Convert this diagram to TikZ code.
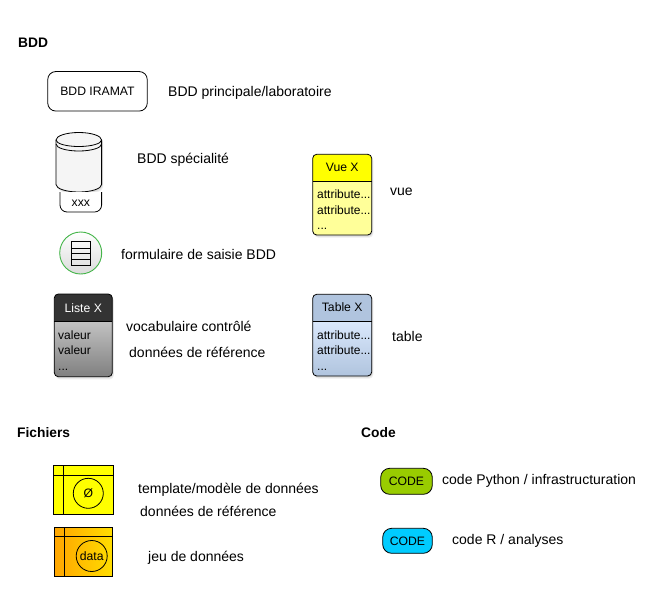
\documentclass[tikz,border=0pt]{standalone}
\usepackage{fontspec}
\setmainfont{Liberation Sans}
\usetikzlibrary{shadows,calc}
\definecolor{vuehead}{HTML}{FFFF00}
\definecolor{vuebody}{HTML}{FFFF99}
\definecolor{tablehead}{HTML}{B0C4DE}
\definecolor{tablelight}{HTML}{DAE8FC}
\definecolor{listehead}{HTML}{333333}
\definecolor{greenfill}{HTML}{99CC00}
\definecolor{bluefill}{HTML}{00CCFF}
\definecolor{greenring}{HTML}{44B549}
\definecolor{orangeleft}{HTML}{FFA500}
\definecolor{orangeright}{HTML}{FFDD00}
\tikzset{
  lbl/.style={anchor=west,inner sep=0pt,font=\fontsize{14}{16}\selectfont},
  head/.style={anchor=west,inner sep=0pt,font=\fontsize{13.8}{16}\selectfont\bfseries},
  small/.style={inner sep=0pt,font=\fontsize{12.2}{14}\selectfont},
  softshadow/.style={fill=white,drop shadow={opacity=.14,shadow xshift=1pt,shadow yshift=-1.5pt},drop shadow={opacity=.14,shadow xshift=1.6pt,shadow yshift=-2.6pt}},
  codebox/.style={draw=black,line width=.8pt,rounded corners=9pt,inner sep=0pt,font=\fontsize{12.2}{14}\selectfont},
  fileline/.style={draw=black,line width=1pt},
  filecircle/.style={circle,draw=black,line width=.8pt,inner sep=0pt,font=\fontsize{12.2}{14}\selectfont},
  attrs/.style={inner sep=0pt,anchor=north west,align=left,font=\fontsize{12}{15.4}\selectfont},
}
% entity box: x0,y0,x1,y1,ysplit,head fill,body options
\newcommand{\entitybox}[7]{%
  \path[softshadow,rounded corners=4pt] (#1,#2) rectangle (#3,#4);
  \path[#7] [sharp corners] (#1,#5) -- (#3,#5) [rounded corners=4pt] -- (#3,#4) -- (#1,#4) [sharp corners] -- cycle;
  \fill[#6,rounded corners=4pt] (#1,#5) [sharp corners] -- (#1,#5) [rounded corners=4pt] -- (#1,#2) -- (#3,#2) [sharp corners] -- (#3,#5) -- cycle;
  \draw[black,line width=.8pt,rounded corners=4pt] (#1,#2) rectangle (#3,#4);
  \draw[black,line width=.8pt] (#1,#5) -- (#3,#5);
}
\begin{document}
\begin{tikzpicture}[x=1pt,y=-1pt]
\useasboundingbox (0,0) rectangle (655,592);
\fill[white] (0,0) rectangle (655,592);

\node[head] (hbdd) at (18,43) {BDD};

% BDD IRAMAT
\node[draw=black,line width=.8pt,rounded corners=8pt,minimum width=99.5pt,minimum height=39.5pt,inner sep=0pt,font=\fontsize{12.2}{14}\selectfont] (iramat) at (97.5,91.3) {BDD IRAMAT};
\node[lbl] (liramat) at (168,93) {BDD principale/laboratoire};

% Cylinder
\path[softshadow]
  (56,140) arc[start angle=180,end angle=360,x radius=22.8,y radius=7.5]
  -- (101.6,184.5) arc[start angle=0,end angle=180,x radius=22.8,y radius=7.5] -- cycle;
\path[fill=white!96!black,draw=black,line width=.8pt]
  (56,140) arc[start angle=180,end angle=360,x radius=22.8,y radius=7.5]
  -- (101.6,184.5) arc[start angle=0,end angle=180,x radius=22.8,y radius=7.5] -- cycle;
\draw[black,line width=.8pt] (56,140) arc[start angle=180,end angle=0,x radius=22.8,y radius=6.5];
\draw[black,line width=.8pt] (56,144) arc[start angle=180,end angle=0,x radius=22.8,y radius=7];
\draw[black,line width=.8pt,fill=white,rounded corners=7pt] (60,192) [sharp corners] -- (60,193) [rounded corners=7pt] -- (60,212) -- (101.6,212) -- (101.6,192);
\node[small] (xxx) at (80.8,203) {xxx};
\node[lbl] (lspec) at (137,159.5) {BDD spécialité};

% Vue X
\entitybox{312.7}{154.3}{371.7}{235}{181}{vuehead}{fill=vuebody}
\node[small] (vue) at (342.2,167.5) {Vue X};
\node[attrs] (vueattr) at (317,190) {attribute...\\attribute...\\...};
\node[lbl] (lvue) at (390,191.5) {vue};

% Formulaire
\node[circle,draw=greenring,line width=.9pt,top color=white,bottom color=black!14,minimum size=42pt,inner sep=0pt] (form) at (80.7,253) {};
\draw[black,line width=.7pt] (71.7,241) rectangle (90,265.7);
\foreach \yy in {248,253,259} \draw[black,line width=.6pt] (71.7,\yy) -- (90,\yy);
\node[lbl] (lform) at (121,254.5) {formulaire de saisie BDD};

% Liste X
\entitybox{54.3}{294}{112.3}{376.7}{321.7}{listehead}{top color=black!24,bottom color=black!50}
\node[small,text=white] (liste) at (83.3,308) {Liste X};
\node[attrs] (listeattr) at (58,330.5) {valeur\\valeur\\...};
\node[lbl] (lvoc) at (126,326.5) {vocabulaire contrôlé};
\node[lbl] (lref) at (129,352.5) {données de référence};

% Table X
\entitybox{312.7}{294.3}{371.7}{376}{321}{tablehead}{top color=tablelight,bottom color=tablehead}
\node[small] (table) at (342.2,307.5) {Table X};
\node[attrs] (tableattr) at (317,330.5) {attribute...\\attribute...\\...};
\node[lbl] (ltable) at (392,336.5) {table};

% Fichiers / Code
\node[head] (hfich) at (17,432.5) {Fichiers};
\node[head] (hcode) at (361,432.5) {Code};

% Template file
\fill[vuehead] (53.3,465.3) rectangle (113.3,514.3);
\draw[fileline] (53.3,465.3) rectangle (113.3,514.3);
\draw[fileline] (53.3,475) -- (113.3,475);
\draw[fileline] (63.3,465.3) -- (63.3,514.3);
\node[filecircle,minimum size=30pt] (tmpl) at (88.3,493.3) {Ø};
\node[lbl] (ltmpl) at (138,489.5) {template/modèle de données};
\node[lbl] (ltmplb) at (140,511.5) {données de référence};

% Data file
\shade[left color=orangeleft,right color=orangeright] (54.3,527.3) rectangle (112.3,576.7);
\draw[fileline] (54.3,527.3) rectangle (112.3,576.7);
\draw[fileline] (54.3,536.7) -- (112.3,536.7);
\draw[fileline] (64.3,527.3) -- (64.3,576.7);
\node[filecircle,minimum size=31pt] (data) at (91.7,556) {data};
\node[lbl] (ldata) at (148,557.5) {jeu de données};

% Code boxes
\node[codebox,fill=greenfill,minimum width=51.6pt,minimum height=26pt] (cpy) at (406.5,481.3) {CODE};
\node[lbl] (lpy) at (442,480.5) {code Python / infrastructuration};
\node[codebox,fill=bluefill,minimum width=49.6pt,minimum height=25pt] (cr) at (407.5,540.8) {CODE};
\node[lbl] (lr) at (452,540.5) {code R / analyses};
\end{tikzpicture}
\end{document}
